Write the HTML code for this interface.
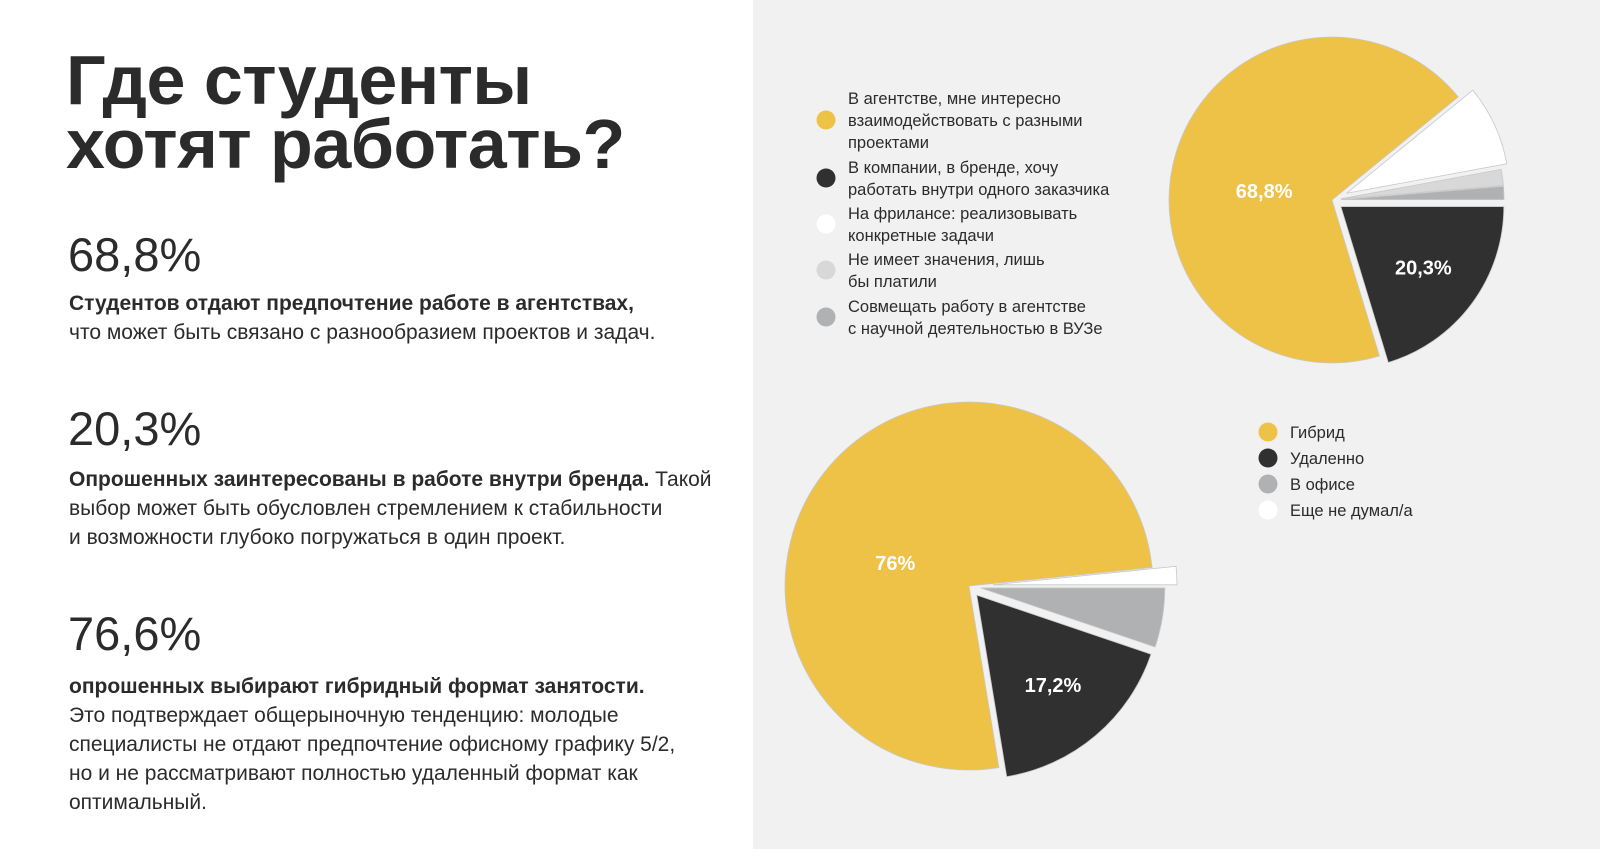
<!DOCTYPE html>
<html><head><meta charset="utf-8">
<style>
body{margin:0;width:1600px;height:849px;background:#fff;font-family:"Liberation Sans",sans-serif;color:#2b2b2b;position:relative;overflow:hidden}
.abs{position:absolute;white-space:nowrap}
.title{left:66px;top:48px;font-size:70px;font-weight:bold;line-height:64px;letter-spacing:-0.5px}
.big{left:68px;font-size:47px;line-height:46px}
.p{left:69px;font-size:21px;line-height:29px}
.panel{position:absolute;left:753px;top:0;width:847px;height:849px;background:#f1f1f1}
</style></head><body>
<div class="panel"></div>
<div class="abs title">Где студенты<br>хотят работать?</div>
<div class="abs big" style="top:232px">68,8%</div>
<div class="abs p" style="top:289px"><b>Студентов отдают предпочтение работе в агентствах,</b><br>что может быть связано с разнообразием проектов и задач.</div>
<div class="abs big" style="top:406px">20,3%</div>
<div class="abs p" style="top:465px"><b>Опрошенных заинтересованы в работе внутри бренда.</b> Такой<br>выбор может быть обусловлен стремлением к стабильности<br>и возможности глубоко погружаться в один проект.</div>
<div class="abs big" style="top:611px">76,6%</div>
<div class="abs p" style="top:672px"><b>опрошенных выбирают гибридный формат занятости.</b><br>Это подтверждает общерыночную тенденцию: молодые<br>специалисты не отдают предпочтение офисному графику 5/2,<br>но и не рассматривают полностью удаленный формат как<br>оптимальный.</div>

<svg id="chart" class="abs" style="left:0;top:0" width="1600" height="849"></svg>
<script>
// Chart 1: workplace preference
const cats1 = ["В агентстве, мне интересно взаимодействовать с разными проектами","В компании, в бренде, хочу работать внутри одного заказчика","На фрилансе: реализовывать конкретные задачи","Не имеет значения, лишь бы платили","Совмещать работу в агентстве с научной деятельностью в ВУЗе"];
const vals1 = [68.8, 20.3, 8.0, 1.6, 1.3];
const labels1 = ["68,8%","20,3%","","",""];
// Chart 2: work format
const cats2 = ["Гибрид","Удаленно","В офисе","Еще не думал/а"];
const vals2 = [76, 17.2, 5.2, 1.6];
const labels2 = ["76%","17,2%","",""];

const NS="http://www.w3.org/2000/svg";
const svg=document.getElementById('chart');
const colors1=["#eec247","#303030","#ffffff","#d8d8d8","#b0b1b3"];
const colors2=["#eec247","#303030","#b0b1b3","#ffffff"];
function mk(t,a){const e=document.createElementNS(NS,t);for(const k in a)e.setAttribute(k,a[k]);svg.appendChild(e);return e;}
function drawPie(vals,colors,labels,cx,cy,r,order,startDeg,explode,lrf,laOff,prefix){
  const total=vals.reduce((a,b)=>a+b,0);
  let ang=startDeg*Math.PI/180;
  order.forEach(i=>{
    const sweep=vals[i]/total*2*Math.PI;
    const a0=ang,a1=ang+sweep,mid=ang+sweep/2;ang=a1;
    const off=explode[i]||0;
    const ox=cx+off*Math.cos(mid),oy=cy+off*Math.sin(mid);
    const x0=ox+r*Math.cos(a0),y0=oy+r*Math.sin(a0),x1=ox+r*Math.cos(a1),y1=oy+r*Math.sin(a1);
    const p=mk('path',{d:`M${ox},${oy}L${x0},${y0}A${r},${r} 0 ${sweep>Math.PI?1:0} 1 ${x1},${y1}Z`,fill:colors[i],stroke:"#c8c8c8","stroke-width":0.8});
    
    
    if(labels[i]){
      const lr=r*(lrf[i]||0.58);
      const la=mid-(laOff[i]||0);
      const t=mk('text',{x:ox+lr*Math.cos(la),y:oy+lr*Math.sin(la)+7,'text-anchor':'middle',fill:'#fff','font-size':20,'font-weight':'bold','font-family':'Liberation Sans, sans-serif'});
      t.textContent=labels[i];
      
      
    }
  });
}
drawPie(vals1,colors1,labels1,1332,200,163,[1,0,2,3,4],0,{0:0,1:11,2:16,3:9,4:9},{0:0.42,1:0.63},{0:0.16},'pie1');
drawPie(vals2,colors2,labels2,969,586,184,[2,1,0,3],0,{0:0,1:12,2:12,3:24},{0:0.42,1:0.64},{0:0.35},'pie2');

function legend(cats,colors,x,ys,lines,prefix){
  cats.forEach((c,i)=>{
    const d=mk('circle',{cx:x,cy:ys[i],r:9.5,fill:colors[i]});
    
    
    const ls=lines[i];
    const t=mk('text',{x:x+22,y:ys[i]-(ls.length-1)*11+6,'font-size':16.5,fill:'#2b2b2b','font-family':'Liberation Sans, sans-serif'});
    
    
    ls.forEach((l,j)=>{const s=document.createElementNS(NS,'tspan');s.setAttribute('x',x+22);if(j)s.setAttribute('dy',22);s.textContent=l;t.appendChild(s);});
  });
}
legend(cats1,colors1,826,[120,178,224,270,317],[
 ["В агентстве, мне интересно","взаимодействовать с разными","проектами"],
 ["В компании, в бренде, хочу","работать внутри одного заказчика"],
 ["На фрилансе: реализовывать","конкретные задачи"],
 ["Не имеет значения, лишь","бы платили"],
 ["Совмещать работу в агентстве","с научной деятельностью в ВУЗе"]],'legend1');
legend(cats2,colors2,1268,[432,458,484,510],cats2.map(c=>[c]),'legend2');
</script>
</body></html>
